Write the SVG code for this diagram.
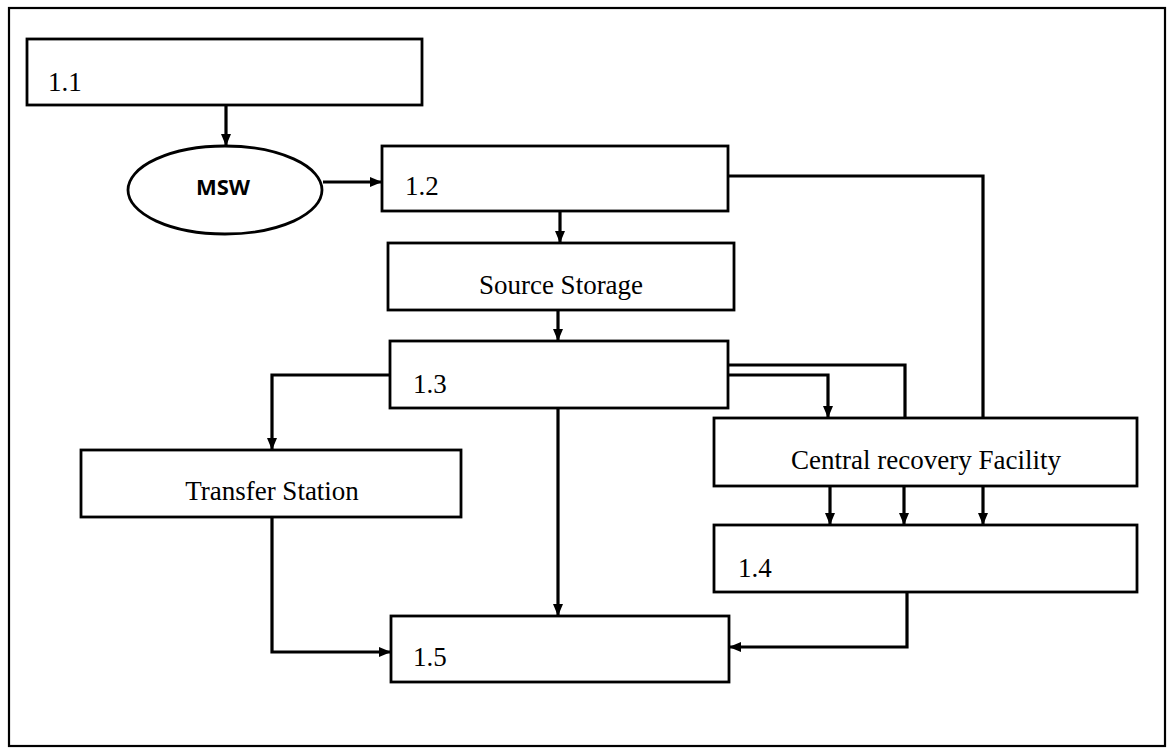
<svg xmlns="http://www.w3.org/2000/svg" width="1168" height="753" viewBox="0 0 1168 753">
<defs>
<marker id="ah" markerUnits="userSpaceOnUse" markerWidth="12" markerHeight="10" viewBox="0 0 12 10" refX="12" refY="5" orient="auto">
<path d="M0,0 L12,5 L0,10 Z" fill="#000"/>
</marker>
</defs>
<style>
.box{fill:#fff;stroke:#000;stroke-width:2.8}
.frame{fill:none;stroke:#000;stroke-width:2.2}
.lbl{font-family:"Liberation Serif","Times New Roman",serif;font-size:27px;fill:#000}
.ctr{text-anchor:middle}
.con{fill:none;stroke:#000;stroke-width:3.2}
.arr{marker-end:url(#ah)}
.msw{font-family:"Open Sans","Liberation Sans",sans-serif;font-weight:700;font-size:22px;text-anchor:middle;fill:#000}
</style>
<rect width="1168" height="753" fill="#fff"/>
<rect class="frame" x="9" y="8" width="1156" height="738"/>
<g id="connectors">
<path class="con arr" d="M226,105 V146"/>
<path class="con arr" d="M323,182 H382"/>
<path class="con" d="M728,176 H983 V418"/>
<path class="con arr" d="M560,211 V243"/>
<path class="con arr" d="M558,310 V341"/>
<path class="con arr" d="M390,375 H272 V450"/>
<path class="con arr" d="M558,408 V616"/>
<path class="con" d="M728,365 H905 V418"/>
<path class="con arr" d="M728,375 H828 V418"/>
<path class="con arr" d="M272,517 V652 H391"/>
<path class="con arr" d="M830,486 V525"/>
<path class="con arr" d="M904,486 V525"/>
<path class="con arr" d="M983,486 V525"/>
<path class="con arr" d="M907,592 V647 H729"/>
</g>
<g id="n11"><rect class="box" x="27" y="39" width="395" height="66"/><text class="lbl" x="48" y="91">1.1</text></g>
<g id="msw"><ellipse class="box" cx="225" cy="190" rx="97" ry="44" stroke-width="3.5"/><text class="msw" x="223" y="195">MSW</text></g>
<g id="n12"><rect class="box" x="382" y="146" width="346" height="65"/><text class="lbl" x="405" y="195">1.2</text></g>
<g id="source"><rect class="box" x="388" y="243" width="346" height="67"/><text class="lbl ctr" x="561" y="294">Source Storage</text></g>
<g id="n13"><rect class="box" x="390" y="341" width="338" height="67"/><text class="lbl" x="413" y="393">1.3</text></g>
<g id="transfer"><rect class="box" x="81" y="450" width="380" height="67"/><text class="lbl ctr" x="272" y="500">Transfer Station</text></g>
<g id="crf"><rect class="box" x="714" y="418" width="423" height="68"/><text class="lbl ctr" x="926" y="469">Central recovery Facility</text></g>
<g id="n14"><rect class="box" x="714" y="525" width="423" height="67"/><text class="lbl" x="738" y="577">1.4</text></g>
<g id="n15"><rect class="box" x="391" y="616" width="338" height="66"/><text class="lbl" x="413" y="666">1.5</text></g>
</svg>
